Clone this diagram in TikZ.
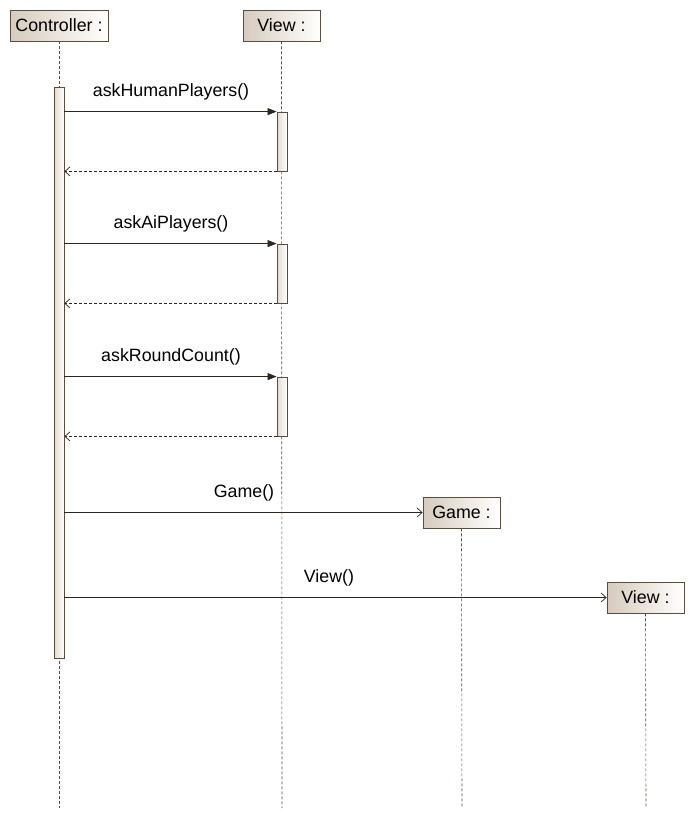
\documentclass[tikz,border=0pt]{standalone}
\usepackage{fontspec}
\setmainfont{Liberation Sans}
\usetikzlibrary{arrows.meta,calc}
\definecolor{edge}{HTML}{5A4C3E}
\definecolor{tan}{HTML}{D6CBBD}
\definecolor{ink}{HTML}{2E2620}
\tikzset{
  obj/.style={draw=edge, line width=0.8pt, left color=tan, right color=white, minimum height=31pt, inner sep=0pt, font=\fontsize{17.8}{20}\selectfont},
  bar/.style={draw=edge, line width=0.8pt, left color=tan!70, right color=white, minimum width=10pt, inner sep=0pt},
  life/.style={draw=edge, dashed, dash pattern=on 3pt off 2pt, line width=0.6pt},
  msg/.style={draw=ink, line width=0.7pt, -{Triangle[length=9pt,width=7pt]}},
  ret/.style={draw=ink, line width=0.7pt, dash pattern=on 3pt off 2pt, -{Straight Barb[length=5pt,width=9pt]}},
  cre/.style={draw=ink, line width=0.7pt, -{Straight Barb[length=5pt,width=9pt]}},
  lbl/.style={font=\fontsize{17.8}{20}\selectfont, inner sep=0pt},
}
\begin{document}
\begin{tikzpicture}[x=1pt,y=-1pt]
\useasboundingbox (0,0) rectangle (695,819);
% object boxes
\node[obj, minimum width=98pt] (ctrl) at (59,25.5) {Controller :};
\node[obj, minimum width=77pt] (view) at (281.5,25.5) {View :};
\node[obj, minimum width=77pt] (game) at (461.5,512.5) {Game :};
\node[obj, minimum width=77pt] (view2) at (645.5,597.5) {View :};
% lifeline ends
\coordinate (ctrlend) at (59,808);
\coordinate (viewend) at (282,808);
\coordinate (gameend) at (462,808);
\coordinate (view2end) at (646,808);
\draw[life] (ctrl.south) -- (ctrlend);
\draw[life] (view.south) -- (viewend);
\draw[life] (game.south) -- (gameend);
\draw[life] (view2.south) -- (view2end);
% activation bars
\node[bar, minimum height=571pt] (cbar) at (59,372.5) {};
\node[bar, minimum height=59pt] (v1) at (282,141.5) {};
\node[bar, minimum height=59pt] (v2) at (282,273.5) {};
\node[bar, minimum height=59pt] (v3) at (282,406.5) {};
% messages
\draw[msg] (cbar.east |- v1.north) -- (v1.north west);
\draw[ret] (v1.south west) -- (cbar.east |- v1.south);
\draw[msg] (cbar.east |- v2.north) -- (v2.north west);
\draw[ret] (v2.south west) -- (cbar.east |- v2.south);
\draw[msg] (cbar.east |- v3.north) -- (v3.north west);
\draw[ret] (v3.south west) -- (cbar.east |- v3.south);
\draw[cre] (cbar.east |- game.west) -- (game.west);
\draw[cre] (cbar.east |- view2.west) -- (view2.west);
% labels
\node[lbl] (l1) at (171,92) {askHumanPlayers()};
\node[lbl] (l2) at (171,224) {askAiPlayers()};
\node[lbl] (l3) at (171,357) {askRoundCount()};
\node[lbl] (l4) at (244,493) {Game()};
\node[lbl] (l5) at (329,578) {View()};
\end{tikzpicture}
\end{document}
